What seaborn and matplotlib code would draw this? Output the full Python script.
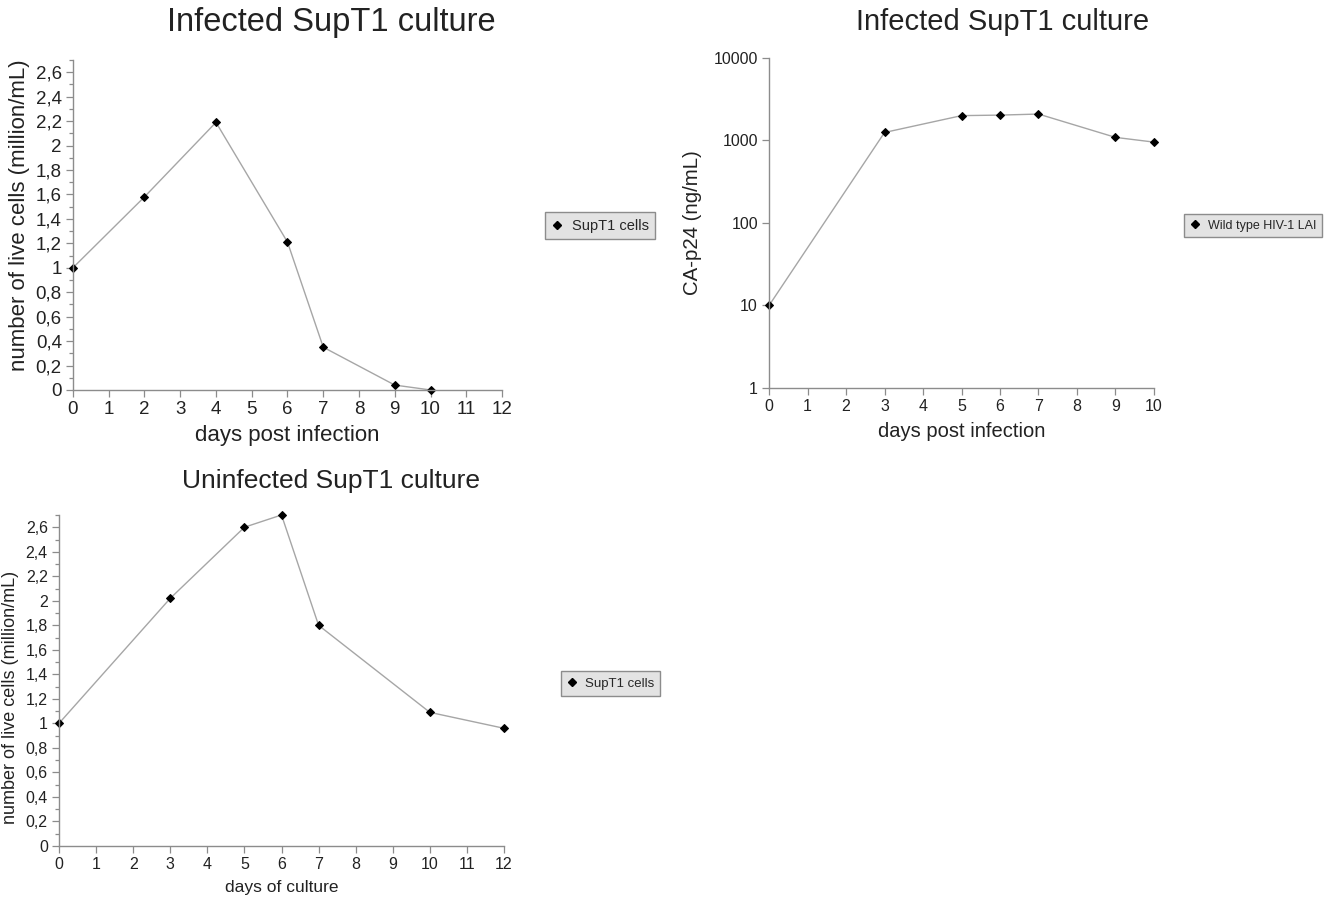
import matplotlib
matplotlib.use("Agg")
import matplotlib.pyplot as plt
from matplotlib.ticker import FuncFormatter, MultipleLocator, FixedLocator, NullLocator
from matplotlib.lines import Line2D
import seaborn as sns
import numpy as np

# ---- data ----
inf_days = [0, 2, 4, 6, 7, 9, 10]
inf_cells = [1.0, 1.58, 2.19, 1.21, 0.35, 0.04, 0.0]

p24_days = [0, 3, 5, 6, 7, 9, 10]
p24_vals = [10, 1250, 2000, 2030, 2090, 1090, 955]

uninf_days = [0, 3, 5, 6, 7, 10, 12]
uninf_cells = [1.0, 2.02, 2.6, 2.7, 1.8, 1.09, 0.96]

titles = ["Infected SupT1 culture", "Infected SupT1 culture", "Uninfected SupT1 culture"]
legend_labels = ["SupT1 cells", "Wild type HIV-1 LAI", "SupT1 cells"]

sns.set_style("ticks")
plt.rcParams['font.family'] = ['Liberation Sans', 'DejaVu Sans']

LINE = '#a6a6a6'
SPINE = '#8c8c8c'
TXT = '#222222'

fig = plt.figure(figsize=(13.31, 9.0), dpi=100)
ax1 = fig.add_axes([0.0548, 0.5667, 0.3224, 0.3666])
ax2 = fig.add_axes([0.5778, 0.5689, 0.2892, 0.3667])
ax3 = fig.add_axes([0.0443, 0.0600, 0.3344, 0.3678])

comma = FuncFormatter(lambda v, p: f"{round(v, 1):g}".replace('.', ','))

def style(ax, tick_fs):
    for s in ['top', 'right']:
        ax.spines[s].set_visible(False)
    for s in ['left', 'bottom']:
        ax.spines[s].set_color(SPINE)
        ax.spines[s].set_linewidth(1.0)
    ax.tick_params(axis='both', which='major', direction='out', length=5, width=0.9,
                   color=SPINE, labelsize=tick_fs, labelcolor=TXT, pad=3)
    ax.tick_params(axis='both', which='minor', direction='out', length=3, width=0.9, color=SPINE)

def draw(ax, x, y):
    sns.lineplot(x=x, y=y, ax=ax, color=LINE, linewidth=1.0, marker='D',
                 markerfacecolor='black', markeredgecolor='black', markersize=4.2,
                 legend=False, clip_on=False)

def legend(ax, label, center, fs):
    h = Line2D([], [], linestyle='none', marker='D', color='black', markersize=4)
    leg = ax.legend([h], [label], loc='center', bbox_to_anchor=center,
                    bbox_transform=fig.transFigure, frameon=True, fancybox=False,
                    facecolor='#e3e3e3', edgecolor='#8c8c8c', framealpha=1,
                    handlelength=0.8, handletextpad=0.6, borderpad=0.45,
                    prop={'size': fs})
    leg.get_frame().set_linewidth(1.0)

# ---- top-left ----
draw(ax1, inf_days, inf_cells)
ax1.set_xlim(0, 12)
ax1.set_ylim(0, 2.7)
ax1.xaxis.set_major_locator(MultipleLocator(1))
ax1.yaxis.set_major_locator(FixedLocator(np.arange(0, 2.61, 0.2)))
ax1.yaxis.set_minor_locator(MultipleLocator(0.1))
ax1.yaxis.set_major_formatter(comma)
style(ax1, 13.5)
ax1.set_xlabel("days post infection", fontsize=16, color=TXT, labelpad=5)
ax1.set_ylabel("number of live cells (million/mL)", fontsize=16, color=TXT, labelpad=4)
ax1.yaxis.label.set_y(0.53)
legend(ax1, legend_labels[0], (0.4508, 0.749), 10.5)

# ---- top-right ----
draw(ax2, p24_days, p24_vals)
ax2.set_yscale('log')
ax2.set_xlim(0, 10)
ax2.set_ylim(1, 10000)
ax2.xaxis.set_major_locator(MultipleLocator(1))
ax2.yaxis.set_major_locator(FixedLocator([1, 10, 100, 1000, 10000]))
ax2.yaxis.set_minor_locator(NullLocator())
ax2.yaxis.set_major_formatter(FuncFormatter(lambda v, p: f"{int(round(v))}"))
style(ax2, 11.5)
ax2.set_xlabel("days post infection", fontsize=14.5, color=TXT, labelpad=6)
ax2.set_ylabel("CA-p24 (ng/mL)", fontsize=14.7, color=TXT, labelpad=8)
legend(ax2, legend_labels[1], (0.9414, 0.7494), 9)

# ---- bottom-left ----
draw(ax3, uninf_days, uninf_cells)
ax3.set_xlim(0, 12)
ax3.set_ylim(0, 2.7)
ax3.xaxis.set_major_locator(MultipleLocator(1))
ax3.yaxis.set_major_locator(FixedLocator(np.arange(0, 2.61, 0.2)))
ax3.yaxis.set_minor_locator(MultipleLocator(0.1))
ax3.yaxis.set_major_formatter(comma)
style(ax3, 11.5)
ax3.set_xlabel("days of culture", fontsize=12.5, color=TXT, labelpad=6)
ax3.set_ylabel("number of live cells (million/mL)", fontsize=13, color=TXT, labelpad=4)
ax3.yaxis.set_label_coords(-0.09, 0.45)
legend(ax3, legend_labels[2], (0.4587, 0.2406), 9.5)

# ---- titles ----
fig.text(331 / 1331, 1 - 22 / 900, titles[0], ha='center', va='center', fontsize=23.5, color=TXT)
fig.text(1003 / 1331, 1 - 22 / 900, titles[1], ha='center', va='center', fontsize=21, color=TXT)
fig.text(331 / 1331, 1 - 481 / 900, titles[2], ha='center', va='center', fontsize=19, color=TXT)

fig.savefig("out.png", dpi=100, facecolor='white')
